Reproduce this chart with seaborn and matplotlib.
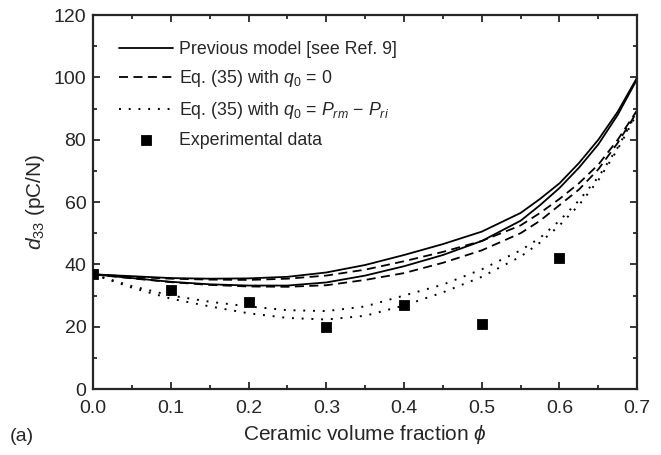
import numpy as np
import matplotlib
matplotlib.use('Agg')
import matplotlib.pyplot as plt
import seaborn as sns
from matplotlib.ticker import MultipleLocator, FormatStrFormatter

# ceramic volume fraction grid
phi = [0.0, 0.05, 0.1, 0.15, 0.2, 0.25, 0.3, 0.35, 0.4, 0.45, 0.5, 0.55, 0.575,
       0.6, 0.625, 0.65, 0.675, 0.7]

# previous model (two curves)
prev_hi = [36.8, 36.2, 35.6, 35.4, 35.5, 36.0, 37.4, 39.8, 43.0, 46.5, 50.5, 56.5, 61.0,
           66.0, 72.5, 80.0, 89.0, 100.0]
prev_lo = [36.8, 35.6, 34.4, 33.6, 33.2, 33.2, 34.2, 36.4, 39.4, 43.0, 47.5, 54.0, 59.0,
           64.5, 71.0, 78.5, 88.0, 99.5]

# Eq. (35), q0 = 0
eq_q0_hi = [36.8, 36.0, 35.4, 35.1, 35.0, 35.4, 36.4, 38.3, 41.0, 44.0, 47.5, 52.5, 56.5,
            61.0, 66.0, 72.0, 80.0, 89.5]
eq_q0_lo = [36.8, 35.5, 34.3, 33.4, 32.9, 32.8, 33.3, 35.0, 37.2, 40.5, 44.5, 50.0, 54.0,
            59.0, 64.0, 70.5, 79.0, 89.0]

# Eq. (35), q0 = Prm - Pri
eq_p_hi = [36.8, 33.0, 30.0, 28.0, 26.5, 25.3, 25.0, 26.5, 30.0, 33.5, 38.4, 44.5, 48.5,
           54.0, 60.5, 68.0, 77.5, 89.0]
eq_p_lo = [36.8, 32.5, 29.0, 26.5, 24.3, 22.8, 22.3, 23.5, 26.8, 31.0, 36.0, 42.5, 47.0,
           52.5, 59.0, 67.0, 77.0, 88.5]

# experimental data
exp_phi = [0.0, 0.1, 0.2, 0.3, 0.4, 0.5, 0.6]
exp_d33 = [37, 31.8, 27.8, 19.8, 27.0, 20.8, 42.0]

sns.set_style('ticks')
plt.rcParams['font.family'] = ['Liberation Sans', 'DejaVu Sans']
plt.rcParams['mathtext.fontset'] = 'custom'
plt.rcParams['mathtext.rm'] = 'Liberation Sans'
plt.rcParams['mathtext.it'] = 'Liberation Sans:italic'

fig = plt.figure(figsize=(6.61, 4.55), dpi=100)
ax = fig.add_axes([0.141, 0.145, 0.823, 0.822])

sns.lineplot(x=phi, y=prev_hi, ax=ax, color='black', lw=1.3, label='Previous model [see Ref. 9]')
sns.lineplot(x=phi, y=prev_lo, ax=ax, color='black', lw=1.3)
sns.lineplot(x=phi, y=eq_q0_hi, ax=ax, color='black', lw=1.3, linestyle=(0, (5, 3)),
             label='Eq. (35) with $q_0$ = 0')
sns.lineplot(x=phi, y=eq_q0_lo, ax=ax, color='black', lw=1.3, linestyle=(0, (5, 3)))
sns.lineplot(x=phi, y=eq_p_hi, ax=ax, color='black', lw=1.4, linestyle=(0, (1, 4)),
             label='Eq. (35) with $q_0$ = $P_{rm}$ − $P_{ri}$')
sns.lineplot(x=phi, y=eq_p_lo, ax=ax, color='black', lw=1.4, linestyle=(0, (1, 4)))
sns.scatterplot(x=exp_phi, y=exp_d33, ax=ax, color='black', marker='s', s=55,
                edgecolor='black', label='Experimental data', zorder=5)

ax.set_xlim(0, 0.7)
ax.set_ylim(0, 120)
ax.xaxis.set_major_locator(MultipleLocator(0.1))
ax.xaxis.set_minor_locator(MultipleLocator(0.05))
ax.yaxis.set_major_locator(MultipleLocator(20))
ax.yaxis.set_minor_locator(MultipleLocator(10))
ax.xaxis.set_major_formatter(FormatStrFormatter('%.1f'))
ax.tick_params(which='both', direction='in', top=True, right=True, labelsize=14, width=1.3)
ax.tick_params(which='major', length=5)
ax.tick_params(which='minor', length=3)
ax.tick_params(axis='x', which='major', pad=8)
ax.tick_params(axis='y', which='major', pad=5)
for s in ax.spines.values():
    s.set_linewidth(1.6)
    s.set_visible(True)

ax.set_xlabel('Ceramic volume fraction $\\phi$', fontsize=15, labelpad=4)
ax.set_ylabel('$d_{33}$ (pC/N)', fontsize=15, labelpad=5)

ax.legend(loc='upper left', bbox_to_anchor=(0.035, 0.95), frameon=False, fontsize=12.8,
          handlelength=3.0, handletextpad=0.35, labelspacing=0.6, borderaxespad=0)

fig.text(0.015, 0.03, '(a)', fontsize=14)

fig.savefig('out.png', dpi=100)
